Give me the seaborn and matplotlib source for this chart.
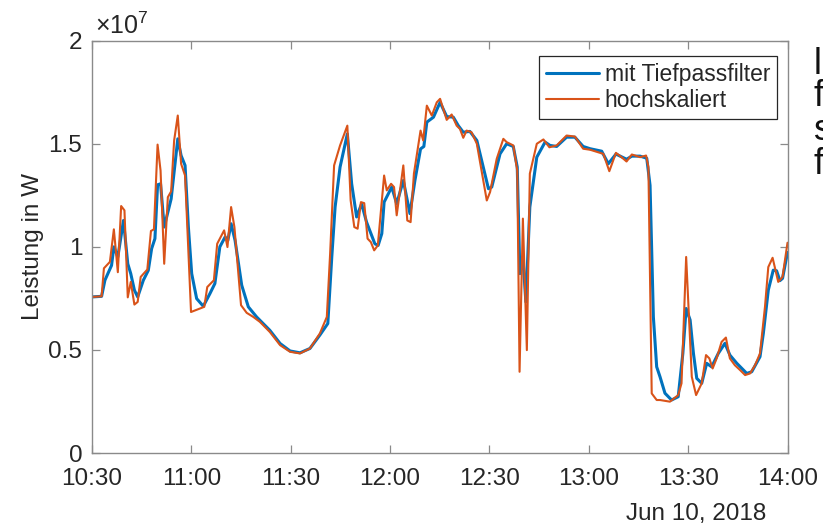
import numpy as np
import pandas as pd
import matplotlib
matplotlib.use("Agg")
import matplotlib.pyplot as plt
import matplotlib.dates as mdates
from matplotlib.ticker import FixedLocator, FixedFormatter
import seaborn as sns

# ---------------- data (minutes after 10:30, power in 1e7 W) ----------------
filt_min = [0, 2.9, 3.9, 5.9, 6.6, 7.8, 9.5, 10.8, 11.7, 12.8, 13.8, 15.5, 17.0, 18.0, 19.0,
            19.8, 20.7, 21.8, 23.9, 25.9, 26.9, 28.1, 29.1, 30.1, 31.6, 33.6, 35.6, 37.1, 38.6,
            40.2, 41.0, 42.0, 43.2, 45.2, 47.2, 49.7, 53.7, 56.8, 59.8, 62.8, 65.8, 68.8, 71.2,
            72.4, 73.4, 74.9, 77.1, 78.4, 79.9, 81.4, 82.9, 85.4, 86.4, 87.5, 88.2, 90.5, 92.0,
            94.0, 96.0, 97.5, 99.2, 100.2, 101.1, 103.1, 105.1, 107.1, 109.1, 110.6, 112.1,
            114.1, 116.2, 119.7, 120.7, 123.2, 125.2, 127.2, 128.4, 129.2, 130.1, 131.0, 132.2,
            134.3, 136.8, 138.3, 140.3, 143.3, 145.8, 148.3, 150.4, 153.9, 155.9, 158.2, 161.4,
            163.0, 165.5, 167.5, 168.5, 169.5, 170.5, 171.5, 173.0, 175.0, 177.0, 178.4, 179.4,
            180.6, 181.6, 182.6, 184.1, 185.6, 187.1, 189.1, 191.1, 192.6, 194.7, 197.7, 199.2,
            201.7, 202.7, 204.2, 205.7, 206.7, 207.7, 208.5, 210.0]
filt_val = [0.757, 0.76, 0.838, 0.91, 1.0, 0.951, 1.128, 0.918, 0.87, 0.79, 0.757, 0.838, 0.886,
            0.991, 1.04, 1.301, 1.306, 1.096, 1.233, 1.524, 1.443, 1.395, 1.096, 0.87, 0.749,
            0.712, 0.773, 0.822, 1.0, 1.048, 1.03, 1.112, 1.031, 0.814, 0.709, 0.66, 0.595,
            0.531, 0.495, 0.486, 0.507, 0.572, 0.628, 0.951, 1.193, 1.387, 1.548, 1.306, 1.145,
            1.209, 1.12, 1.015, 1.007, 1.064, 1.217, 1.29, 1.209, 1.322, 1.161, 1.322, 1.475,
            1.487, 1.605, 1.629, 1.701, 1.632, 1.629, 1.588, 1.556, 1.56, 1.516, 1.282, 1.29,
            1.451, 1.5, 1.487, 1.387, 0.87, 0.95, 0.733, 1.193, 1.435, 1.508, 1.492, 1.487,
            1.532, 1.532, 1.487, 1.476, 1.464, 1.403, 1.45, 1.425, 1.44, 1.44, 1.43, 1.298,
            0.66, 0.418, 0.37, 0.29, 0.257, 0.273, 0.483, 0.701, 0.645, 0.483, 0.362, 0.338,
            0.435, 0.418, 0.483, 0.532, 0.475, 0.435, 0.386, 0.394, 0.467, 0.58, 0.79, 0.887,
            0.884, 0.836, 0.847, 0.973]

scal_min = [0, 2.9, 3.6, 5.4, 6.6, 7.8, 8.8, 9.8, 10.8, 11.7, 12.8, 13.8, 14.7, 16.7, 17.8,
            18.7, 19.8, 20.7, 21.8, 22.9, 23.9, 24.8, 25.9, 26.9, 28.1, 29.9, 33.9, 34.8, 36.8,
            37.8, 39.9, 40.9, 42.0, 43.0, 45.0, 46.7, 48.7, 50.7, 53.7, 56.8, 59.8, 62.8, 65.8,
            68.8, 70.9, 71.9, 73.1, 74.9, 77.1, 78.1, 79.2, 80.2, 81.2, 82.2, 83.2, 84.2, 85.2,
            86.3, 88.2, 89.0, 90.3, 91.2, 92.0, 94.0, 95.2, 96.2, 97.2, 99.2, 100.0, 101.1,
            102.6, 104.1, 105.1, 107.1, 108.6, 110.1, 111.1, 112.1, 113.1, 114.6, 116.2, 119.2,
            120.2, 122.2, 124.2, 125.2, 127.2, 128.4, 129.1, 130.1, 131.3, 132.2, 134.3, 136.3,
            138.1, 140.3, 143.3, 145.8, 148.3, 150.4, 154.4, 156.2, 158.2, 159.9, 161.4, 163.0,
            165.5, 167.3, 168.0, 169.0, 170.5, 171.5, 174.5, 177.0, 178.0, 179.4, 181.1, 182.4,
            184.1, 185.4, 186.4, 187.4, 188.6, 190.1, 191.4, 192.6, 194.1, 195.7, 197.2, 198.7,
            200.2, 201.7, 203.2, 204.2, 205.5, 207.2, 208.5, 210.0]
scal_val = [0.757, 0.76, 0.896, 0.927, 1.085, 0.877, 1.198, 1.177, 0.755, 0.83, 0.72, 0.733,
            0.854, 0.89, 1.077, 1.085, 1.496, 1.37, 0.918, 1.241, 1.269, 1.516, 1.637, 1.403,
            1.346, 0.684, 0.709, 0.805, 0.838, 1.015, 1.08, 0.999, 1.193, 1.096, 0.717, 0.68,
            0.66, 0.636, 0.587, 0.523, 0.491, 0.483, 0.507, 0.58, 0.66, 0.967, 1.395, 1.492,
            1.588, 1.225, 1.096, 1.088, 1.217, 1.212, 1.04, 1.023, 0.983, 1.007, 1.346, 1.274,
            1.306, 1.29, 1.153, 1.395, 1.128, 1.12, 1.355, 1.564, 1.516, 1.685, 1.637, 1.701,
            1.718, 1.616, 1.642, 1.588, 1.572, 1.529, 1.564, 1.556, 1.5, 1.225, 1.266, 1.427,
            1.524, 1.508, 1.492, 1.37, 0.394, 1.137, 0.499, 1.355, 1.5, 1.521, 1.483, 1.492,
            1.54, 1.535, 1.476, 1.471, 1.451, 1.367, 1.456, 1.435, 1.414, 1.448, 1.435, 1.443,
            1.387, 0.289, 0.257, 0.257, 0.249, 0.281, 0.338, 0.951, 0.37, 0.281, 0.338, 0.475,
            0.459, 0.41, 0.459, 0.539, 0.56, 0.459, 0.426, 0.402, 0.378, 0.386, 0.426, 0.483,
            0.709, 0.902, 0.947, 0.83, 0.854, 1.02]

series_names = ["mit Tiefpassfilter", "hochskaliert"]
series_colors = ["#0072BD", "#D95319"]
y_ticks = [0, 0.5, 1, 1.5, 2]
y_tick_labels = ["0", "0.5", "1", "1.5", "2"]
scale = 1e7
start = pd.Timestamp("2018-06-10 10:30")
end = pd.Timestamp("2018-06-10 14:00")

# ---------------- build frames ----------------
df_f = pd.DataFrame({"Zeit": start + pd.to_timedelta(filt_min, unit="m"),
                     "Leistung": np.array(filt_val) * scale, "Reihe": series_names[0]})
df_s = pd.DataFrame({"Zeit": start + pd.to_timedelta(scal_min, unit="m"),
                     "Leistung": np.array(scal_val) * scale, "Reihe": series_names[1]})

sns.set_theme(style="white")
plt.rcParams["font.family"] = ["Liberation Sans", "DejaVu Sans"]
plt.rcParams["mathtext.fontset"] = "custom"
plt.rcParams["mathtext.rm"] = "Liberation Sans"

W, H = 823, 527
fig = plt.figure(figsize=(W / 100, H / 100), dpi=100)
ax = fig.add_axes([92 / W, 1 - 453 / H, (787.5 - 92) / W, (453 - 40.7) / H])

sns.lineplot(data=df_f, x="Zeit", y="Leistung", color=series_colors[0], lw=2.2,
             label=series_names[0], ax=ax, estimator=None, sort=False)
sns.lineplot(data=df_s, x="Zeit", y="Leistung", color=series_colors[1], lw=1.5,
             label=series_names[1], ax=ax, estimator=None, sort=False)

ax.set_xlim(start, end)
ax.set_ylim(0, 2 * scale)
ax.xaxis.set_major_locator(mdates.MinuteLocator(byminute=[0, 30]))
ax.xaxis.set_major_formatter(mdates.DateFormatter("%H:%M"))
ax.yaxis.set_major_locator(FixedLocator([v * scale for v in y_ticks]))
ax.yaxis.set_major_formatter(FixedFormatter(y_tick_labels))

spine_col = "#8a8a8a"
for s in ax.spines.values():
    s.set_color(spine_col)
    s.set_linewidth(1.0)
ax.tick_params(axis="both", which="major", direction="in", length=6, width=0.9,
               color=spine_col, labelsize=17.5, labelcolor="#262626",
               top=True, right=True, bottom=True, left=True)
ax.tick_params(axis="x", pad=11)
ax.tick_params(axis="y", pad=7)

ax.set_xlabel("")
ax.set_ylabel("Leistung in W", fontsize=17.5, color="#262626", labelpad=3)

leg = ax.legend(loc="upper right", bbox_to_anchor=(0.985, 0.963), fontsize=16.5,
                frameon=True, fancybox=False, framealpha=1, edgecolor="#262626",
                handlelength=2.3, handletextpad=0.25, borderpad=0.3, labelspacing=0.15,
                borderaxespad=0)
leg.get_frame().set_linewidth(0.9)

# exponent label and date label
ax.text(0.004, 1.004, r"$\times10^{7}$", transform=ax.transAxes, fontsize=18,
        color="#262626", ha="left", va="bottom")
fig.text(766 / W, 1 - 514 / H, "Jun 10, 2018", fontsize=17.5, color="#262626",
         ha="right", va="center")

# cut-off title and side text from the surrounding slide
fig.text(440 / W, 1 + 5 / H, "normiert", fontsize=16, color="#262626",
         ha="center", va="center")
for yy, ch in zip([64, 97, 131, 164], ["l", "f", "s", "f"]):
    fig.text(814 / W, 1 - yy / H, ch, fontsize=26, color="#111111", ha="left", va="center")

fig.savefig("out.png", dpi=100)
